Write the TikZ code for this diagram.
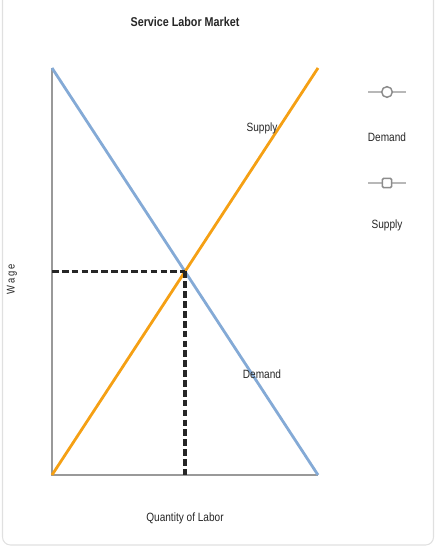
\documentclass[tikz,border=0pt]{standalone}
\usepackage{fontspec}
\setmainfont{Liberation Sans}
\newfontfamily\narrowfont[FakeStretch=0.84]{Liberation Sans}
\begin{document}
\begin{tikzpicture}[x=0.75pt, y=-0.75pt,
    every node/.style={font=\narrowfont\fontsize{9}{10}\selectfont, text=black!85, inner sep=1pt},
    axisline/.style={draw=black!40, line width=0.8pt},
    demandline/.style={line width=2.1pt, color={rgb,255:red,132;green,170;blue,214}},
    supplyline/.style={line width=2.1pt, color={rgb,255:red,245;green,160;blue,20}},
    guideline/.style={draw=black!85, line width=2.5pt, dash pattern=on 5pt off 2.4pt},
    legendbar/.style={draw=black!28, line width=2.2pt}]
  \useasboundingbox (0,0) rectangle (436,548);
  % frame
  \draw[black!12, line width=0.8pt, rounded corners=6pt] (2.5,0) -- (2.5,545) -- (433.5,545) -- (433.5,0);
  % axes
  \coordinate (origin) at (52,475);
  \coordinate (ytop) at (52,68);
  \coordinate (xend) at (318,475);
  \coordinate (stop) at (318,68);
  \draw[axisline] (ytop) -- (origin) -- (xend);
  % curves
  \draw[demandline] (ytop) -- (xend);
  \draw[supplyline] (origin) -- (stop);
  % equilibrium
  \coordinate (eq) at (185,271.5);
  \coordinate (eqy) at (52,271.5);
  \coordinate (eqx) at (185,475);
  \draw[guideline] (eqy) -- (eq);
  \draw[guideline] (eq) -- (eqx);
  % labels
  \node (title) at (185,22) {\fontsize{9.6}{10}\selectfont\bfseries Service Labor Market};
  \node[rotate=90] (wage) at (12,279) {\addfontfeature{LetterSpace=18}\fontsize{8.4}{9}\selectfont Wage};
  \node (qty) at (185,518) {Quantity of Labor};
  \node (slabel) at (262,128) {Supply};
  \node (dlabel) at (262,374) {Demand};
  % legend
  \coordinate (dl) at (368,92);
  \coordinate (dr) at (406,92);
  \draw[legendbar] (dl) -- (dr);
  \node[circle, draw=black!45, fill=white, line width=1.1pt, minimum size=8pt, inner sep=0pt] (dmark) at (387,92) {};
  \node (dname) at (387,137) {Demand};
  \coordinate (sl) at (368,183);
  \coordinate (sr) at (406,183);
  \draw[legendbar] (sl) -- (sr);
  \node[rectangle, rounded corners=1pt, draw=black!45, fill=white, line width=1.1pt, minimum size=7pt, inner sep=0pt] (smark) at (387,183) {};
  \node (sname) at (387,225) {Supply};
\end{tikzpicture}
\end{document}
